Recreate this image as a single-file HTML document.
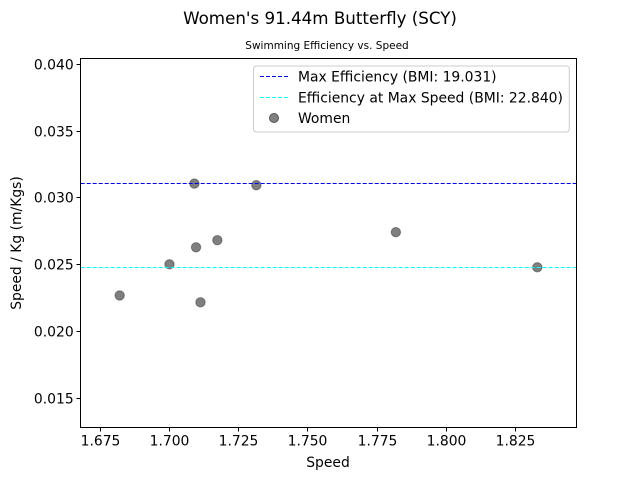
<!DOCTYPE html>
<html><head><meta charset="utf-8"><style>
body{margin:0;background:#fff}
svg{display:block;font-family:"DejaVu Sans","Liberation Sans",sans-serif}
</style></head><body>
<svg id="chart" width="640" height="480">
<rect width="640" height="480" fill="#fff"/>
<text x="320" y="24" font-size="16.7" text-anchor="middle">Women's 91.44m Butterfly (SCY)</text>
<text x="327" y="49" font-size="10.5" text-anchor="middle">Swimming Efficiency vs. Speed</text>
<g id="marks"></g>
<rect x="80.5" y="58.5" width="496" height="369" fill="none" stroke="#000" stroke-width="1"/>
<g id="axes"></g>
<text x="328" y="467" font-size="13.9" text-anchor="middle">Speed</text>
<text transform="translate(21,243) rotate(-90)" font-size="13.9" text-anchor="middle">Speed / Kg (m/Kgs)</text>
<g>
<rect x="253.5" y="66" width="315.8" height="66" rx="3" fill="#fff" fill-opacity="0.8" stroke="#ccc"/>
<line x1="260" y1="76.5" x2="288" y2="76.5" stroke="#0000ff" stroke-dasharray="4,2"/>
<text x="298" y="81.5" font-size="13.9">Max Efficiency (BMI: 19.031)</text>
<line x1="260" y1="97.5" x2="288" y2="97.5" stroke="#00ffff" stroke-dasharray="4,2"/>
<text x="298" y="102.5" font-size="13.9">Efficiency at Max Speed (BMI: 22.840)</text>
<circle cx="274" cy="118" r="4.5" fill="#808080" stroke="#555"/>
<text x="298" y="123" font-size="13.9">Women</text>
</g>
</svg>
<script>
const speeds=[1.682,1.700,1.709,1.7096,1.7112,1.7173,1.7314,1.7818,1.8329];
const efficiency=[0.0227,0.02503,0.03107,0.0263,0.02218,0.02683,0.03095,0.02743,0.0248];
const refLines=[0.0311,0.0248];
const xTicks=[1.675,1.700,1.725,1.750,1.775,1.800,1.825];
const yTicks=[0.015,0.020,0.025,0.030,0.035,0.040];
const X0=80.7,X1=576.3,Y0=427.3,Y1=58.3;
const xMin=1.66792,xMax=1.84700,yMin=0.012825,yMax=0.04045;
function sx(v){return X0+(v-xMin)/(xMax-xMin)*(X1-X0);}
function sy(v){return Y0-(v-yMin)/(yMax-yMin)*(Y0-Y1);}
function snap(p){return Math.floor(p)+0.5;}
const NS="http://www.w3.org/2000/svg";
function mk(t,a,p){const e=document.createElementNS(NS,t);for(const k in a)e.setAttribute(k,a[k]);p.appendChild(e);return e;}
const marks=document.getElementById('marks'),axes=document.getElementById('axes');
const colors=['#0000ff','#00ffff'];
const names=['max-efficiency-line','max-speed-line'];
speeds.forEach((s,i)=>{
 const c=mk('circle',{cx:sx(s),cy:sy(efficiency[i]),r:4.7,fill:'#000','fill-opacity':0.5,stroke:'#333','stroke-opacity':0.5},marks);
 
 
});
refLines.forEach((v,i)=>{
 const y=snap(sy(v));
 const l=mk('line',{x1:X0,x2:X1,y1:y,y2:y,stroke:colors[i],'stroke-dasharray':'4,2','stroke-width':1},marks);
 
 
});
xTicks.forEach(v=>{
 const x=snap(sx(v));
 const t=mk('line',{x1:x,x2:x,y1:427.5,y2:431.5,stroke:'#000'},axes);
 
 
 const l=mk('text',{x:x,y:Y0+18,'font-size':13.9,'text-anchor':'middle'},axes);
 l.textContent=v.toFixed(3);
 
 
});
yTicks.forEach(v=>{
 const y=snap(sy(v));
 const t=mk('line',{x1:76.5,x2:80.5,y1:y,y2:y,stroke:'#000'},axes);
 
 
 const l=mk('text',{x:X0-7,y:y+5,'font-size':13.9,'text-anchor':'end'},axes);
 l.textContent=v.toFixed(3);
 
 
});
</script>
</body></html>
